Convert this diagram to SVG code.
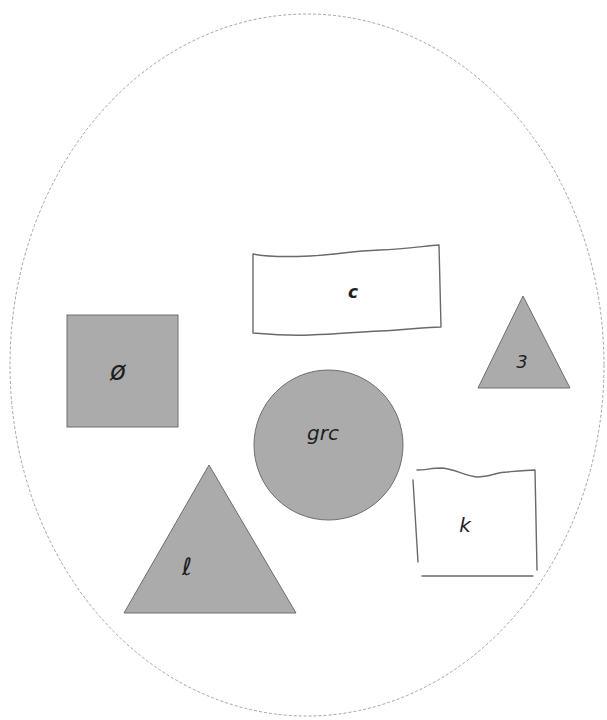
<svg xmlns="http://www.w3.org/2000/svg" width="607" height="720" viewBox="0 0 607 720">
<style>
.sh{fill:#ababab;stroke:#6e6e6e;stroke-width:1}
.hand{fill:none;stroke:#6a6a6a;stroke-width:1.4;stroke-linecap:round;stroke-linejoin:round}
.lbl{font-family:"DejaVu Sans",sans-serif;font-style:italic;fill:#1e1e1e;text-anchor:middle}
</style>
<rect width="607" height="720" fill="#ffffff"/>
<g id="boundary">
<ellipse cx="307" cy="365" rx="297" ry="351" fill="none" stroke="#9a9a9a" stroke-width="0.9" stroke-dasharray="3 2"/>
</g>
<g id="node-c">
<path class="hand" d="M253,254 C262,256 285,257 310,256 C335,255 350,251 380,250 C405,249 425,246 439,245 L441,327 C425,327 405,330 380,331 C355,332 340,334 310,335 C285,336 265,334 253,333 Z"/>
<text class="lbl" x="353" y="298" font-size="17" font-style="normal" font-weight="bold">c</text>
</g>
<g id="node-square">
<rect class="sh" x="67" y="315" width="111" height="112"/>
<text class="lbl" x="118" y="380" font-size="26">ø</text>
</g>
<g id="node-small-triangle">
<polygon class="sh" points="523,296 570,388 478,388"/>
<text class="lbl" x="522" y="368" font-size="18">3</text>
</g>
<g id="node-circle">
<ellipse class="sh" cx="328.5" cy="445" rx="74.5" ry="75"/>
<text class="lbl" x="323" y="440" font-size="20">grc</text>
</g>
<g id="node-big-triangle">
<polygon class="sh" points="209,465 296,613 124,613"/>
<text class="lbl" x="187" y="575" font-size="24">ℓ</text>
</g>
<g id="node-k">
<path class="hand" d="M417,470 C425,470 432,468 442,468 C455,469 465,476 477,477 C490,477 497,472 507,472 C518,471 528,470 535,470 L537,570"/>
<path class="hand" d="M413,480 L418,562"/>
<path class="hand" d="M422,576 L533,576"/>
<text class="lbl" x="465" y="532" font-size="20">k</text>
</g>
</svg>
